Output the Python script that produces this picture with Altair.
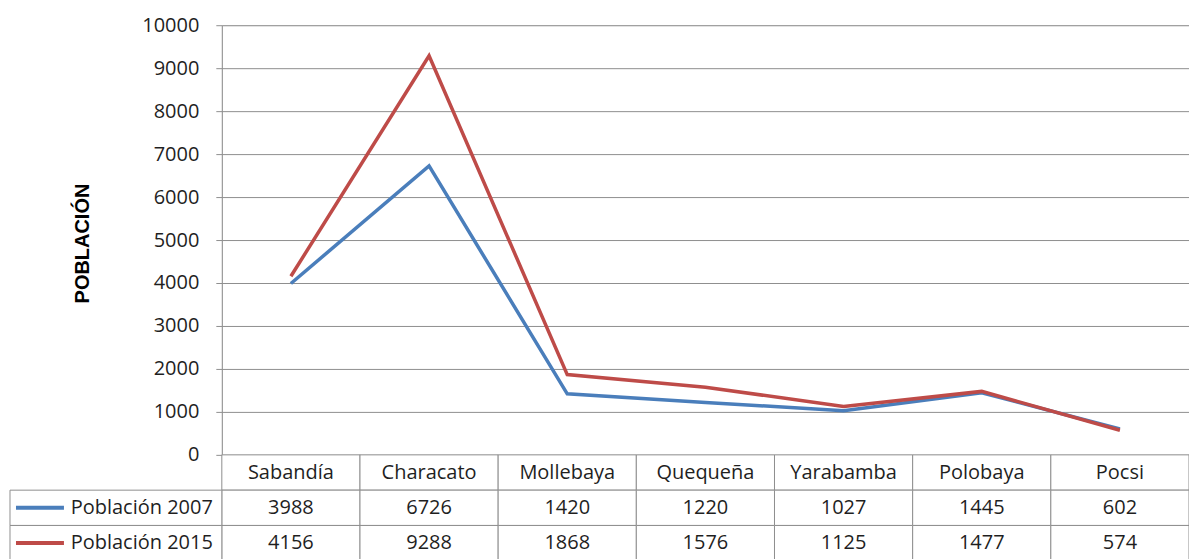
import altair as alt
import pandas as pd

categories = ["Sabandía", "Characato", "Mollebaya", "Quequeña", "Yarabamba", "Polobaya", "Pocsi"]
pop_2007 = [3988, 6726, 1420, 1220, 1027, 1445, 602]
pop_2015 = [4156, 9288, 1868, 1576, 1125, 1477, 574]
series_names = ["Población 2007", "Población 2015"]
series_colors = ["#4a7ebb", "#be4b48"]
y_ticks = list(range(0, 10001, 1000))
header_key = "cabecera"

GRID = "#8f8f8f"
TEXT = "#1f1f1f"
FONT = "Open Sans"
FS = 20

lines_df = pd.DataFrame({
    "distrito": categories * 2,
    "serie": [series_names[0]] * len(categories) + [series_names[1]] * len(categories),
    "valor": pop_2007 + pop_2015,
})

rows = [{"distrito": c, "fila": header_key, "texto": c} for c in categories]
for s, vals in zip(series_names, [pop_2007, pop_2015]):
    rows += [{"distrito": c, "fila": s, "texto": str(v)} for c, v in zip(categories, vals)]
table_df = pd.DataFrame(rows)
labels_df = pd.DataFrame({"fila": series_names, "serie": series_names})

x_scale = alt.Scale(type="band", domain=categories, paddingInner=0, paddingOuter=0)
fila_scale = alt.Scale(type="band", domain=[header_key] + series_names, range=[430, 536],
                       paddingInner=0, paddingOuter=0)
color_scale = alt.Scale(domain=series_names, range=series_colors)

line = alt.Chart(lines_df).mark_line(strokeWidth=3.5).encode(
    x=alt.X("distrito:N", scale=x_scale, axis=None, bandPosition=0.5),
    y=alt.Y("valor:Q", scale=alt.Scale(domain=[0, 10000], range=[430, 0], nice=False),
            axis=alt.Axis(values=y_ticks, format="d", grid=True, gridColor=GRID, gridWidth=1,
                          domainColor=GRID, tickColor=GRID, tickSize=6,
                          labelFont=FONT, labelFontSize=FS, labelColor=TEXT, labelPadding=17,
                          title="POBLACIÓN", titleFont="Liberation Sans", titleFontSize=20,
                          titleFontWeight="bold", titleColor="#000000",
                          titleX=-133, titleY=218, titleBaseline="alphabetic", titleAlign="center")),
    color=alt.Color("serie:N", scale=color_scale, legend=None),
)

y_tab = alt.Y("fila:N", scale=fila_scale, axis=None)
y_tab_c = alt.Y("fila:N", scale=fila_scale, axis=None, bandPosition=0.5)

cells = alt.Chart(table_df).mark_rect(fill="white", stroke=GRID, strokeWidth=1).encode(
    x=alt.X("distrito:N", scale=x_scale, axis=None),
    y=y_tab,
)
cell_text = alt.Chart(table_df).mark_text(font=FONT, fontSize=FS, color=TEXT, baseline="middle").encode(
    x=alt.X("distrito:N", scale=x_scale, axis=None, bandPosition=0.5),
    y=y_tab_c,
    text="texto:N",
)
label_cells = alt.Chart(labels_df).mark_rect(fill="white", stroke=GRID, strokeWidth=1).encode(
    x=alt.value(-212), x2=alt.value(0), y=y_tab,
)
legend_rules = alt.Chart(labels_df).mark_rule(strokeWidth=4).encode(
    x=alt.value(-206), x2=alt.value(-158), y=y_tab_c,
    color=alt.Color("serie:N", scale=color_scale, legend=None),
)
label_text = alt.Chart(labels_df).mark_text(font=FONT, fontSize=FS, color=TEXT, align="right",
                                             baseline="middle").encode(
    x=alt.value(-9), y=y_tab_c, text="serie:N",
)

table = alt.layer(cells, cell_text, label_cells, legend_rules, label_text)

chart = alt.layer(line, table).resolve_scale(y="independent").properties(
    width=968, height=534,
    autosize=alt.AutoSizeParams(type="none"),
    padding={"left": 214, "top": 17, "right": 0, "bottom": 0},
).configure_view(strokeWidth=0).configure(background="white")

chart.save("out.html", embed_options={"renderer": "svg", "actions": False})
